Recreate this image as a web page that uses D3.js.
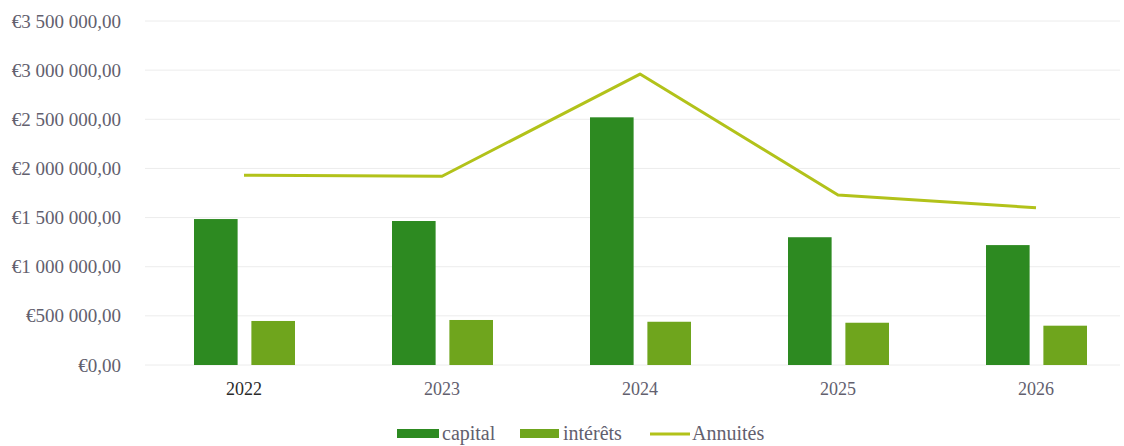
<!DOCTYPE html>
<html>
<head>
<meta charset="utf-8">
<script src="https://cdn.jsdelivr.net/npm/d3@7"></script>
<style>
  body { margin: 0; background: #fff; }
</style>
</head>
<body>
<div id="chart"></div>
<script>
// Data
const years = ["2022", "2023", "2024", "2025", "2026"];
const capital = [1485000, 1465000, 2520000, 1300000, 1220000];
const interets = [448000, 458000, 440000, 430000, 400000];
const annuites = [1930000, 1920000, 2960000, 1730000, 1600000];
const yTicks = [0, 500000, 1000000, 1500000, 2000000, 2500000, 3000000, 3500000];

const chartWidth = 1124, chartHeight = 446;
const serif = "'Liberation Serif', 'DejaVu Serif', serif";

// "€1 500 000,00" style formatting
function euro(v) {
  const intPart = String(Math.round(v)).replace(/\B(?=(\d{3})+(?!\d))/g, " ");
  return "€" + intPart + ",00";
}

const $svg = d3.select("#chart").append("svg")
  .attr("width", chartWidth)
  .attr("height", chartHeight);

const xScale = d3.scaleBand()
  .domain(years)
  .range([145, 1135]);

const yScale = d3.scaleLinear()
  .domain([0, 3500000])
  .range([365, 21]);

// inner scale to place the two bars of each year
const innerScale = d3.scaleBand()
  .domain(["capital", "interets"])
  .range([-50, 51])
  .paddingInner(0.24);

// gridlines
$svg.append("g")
  .selectAll("line")
  .data(yTicks)
  .enter()
  .append("line")
  .attr("x1", 145)
  .attr("x2", 1120)
  .attr("y1", d => yScale(d))
  .attr("y2", d => yScale(d))
  .attr("stroke", "#ececec")
  .attr("stroke-width", 1);

// y-axis labels
const yAxis = d3.axisLeft(yScale)
  .tickValues(yTicks)
  .tickFormat(euro)
  .tickSize(0)
  .tickPadding(0);
const $yAxis = $svg.append("g")
  .attr("transform", "translate(121,0)")
  .call(yAxis);
$yAxis.select(".domain").remove();
$yAxis.attr("font-family", serif).attr("font-size", 19);
$yAxis.selectAll("text").attr("fill", "#62606e");

// x-axis labels
const xAxis = d3.axisBottom(xScale).tickSize(0).tickPadding(0);
const $xAxis = $svg.append("g")
  .attr("transform", "translate(0,382)")
  .call(xAxis);
$xAxis.select(".domain").remove();
$xAxis.attr("font-family", serif).attr("font-size", 18);
$xAxis.selectAll("text")
  .attr("fill", (d, i) => i === 0 ? "#2a2a2a" : "#62606e");

const centre = d => xScale(d) + xScale.bandwidth() / 2;

// capital bars
$svg.append("g")
  .selectAll("rect")
  .data(years)
  .enter()
  .append("rect")
  .attr("x", d => centre(d) + innerScale("capital"))
  .attr("width", innerScale.bandwidth())
  .attr("y", (d, i) => yScale(capital[i]))
  .attr("height", (d, i) => yScale(0) - yScale(capital[i]))
  .attr("fill", "#2d8a21");

// interest bars
$svg.append("g")
  .selectAll("rect")
  .data(years)
  .enter()
  .append("rect")
  .attr("x", d => centre(d) + innerScale("interets"))
  .attr("width", innerScale.bandwidth())
  .attr("y", (d, i) => yScale(interets[i]))
  .attr("height", (d, i) => yScale(0) - yScale(interets[i]))
  .attr("fill", "#6fa51d");

// annuity line
const lineGenerator = d3.line()
  .x((d, i) => centre(years[i]))
  .y(d => yScale(d));
$svg.append("path")
  .datum(annuites)
  .attr("fill", "none")
  .attr("stroke", "#b2c21a")
  .attr("stroke-width", 3)
  .attr("stroke-linejoin", "round")
  .attr("d", lineGenerator);

// legend
const $legend = $svg.append("g")
  .attr("transform", "translate(0,434)")
  .attr("font-family", serif)
  .attr("font-size", 20)
  .attr("fill", "#62606e");
$legend.append("rect").attr("x", 397).attr("y", -5).attr("width", 42).attr("height", 9).attr("fill", "#2d8a21");
$legend.append("text").attr("x", 442).attr("y", 6).text("capital");
$legend.append("rect").attr("x", 520).attr("y", -5).attr("width", 39).attr("height", 9).attr("fill", "#6fa51d");
$legend.append("text").attr("x", 563).attr("y", 6).text("intérêts");
$legend.append("line").attr("x1", 650).attr("x2", 690).attr("y1", 0).attr("y2", 0)
  .attr("stroke", "#b2c21a").attr("stroke-width", 3);
$legend.append("text").attr("x", 692).attr("y", 6).text("Annuités");
</script>
</body>
</html>
